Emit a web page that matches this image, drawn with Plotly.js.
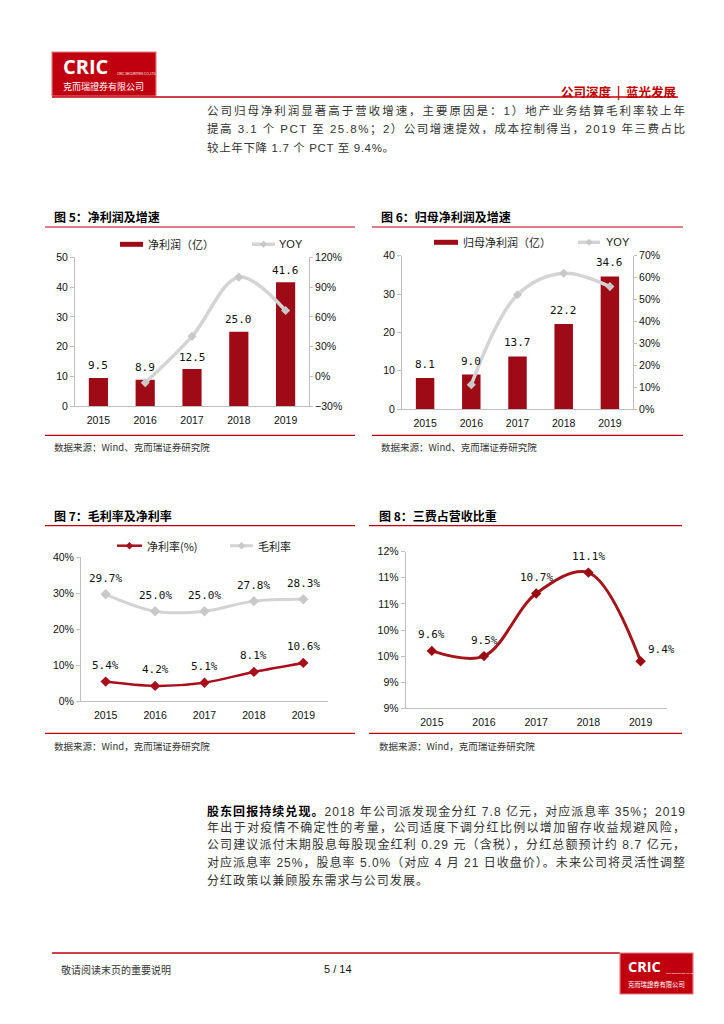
<!DOCTYPE html>
<html lang="zh-CN">
<head>
<meta charset="utf-8">
<script src="https://cdn.plot.ly/plotly-3.0.1.min.js"></script>
<style>
  html, body { margin:0; padding:0; background:#fff; }
  #page { position:relative; width:724px; height:1024px; overflow:hidden; }
  #plot { position:absolute; left:0; top:0; width:724px; height:1024px; }
  .line { position:absolute; white-space:nowrap; height:20px; line-height:20px;
          font-family:"Liberation Sans","Noto Sans CJK SC",sans-serif; color:#333; z-index:5; }
  .line b { color:#000; font-family:"Noto Sans CJK SC",sans-serif; font-weight:700; }
</style>
</head>
<body>
<div id="page"><div id="plot"></div></div>
<script>
// ---------------- data ----------------
const years = ['2015', '2016', '2017', '2018', '2019'];
const netProfit = [9.5, 8.9, 12.5, 25.0, 41.6];             // 净利润（亿）
const netProfitYoy = [null, -6.3, 40.4, 100.0, 66.4];       // YOY %
const parentProfit = [8.1, 9.0, 13.7, 22.2, 34.6];          // 归母净利润（亿）
const parentProfitYoy = [null, 11.1, 52.2, 62.0, 55.9];     // YOY %
const netMargin = [5.4, 4.2, 5.1, 8.1, 10.6];               // 净利率(%)
const grossMargin = [29.7, 25.0, 25.0, 27.8, 28.3];         // 毛利率
const expenseRatio = [9.6, 9.5, 10.7, 11.1, 9.4];           // 三费占营收比重
const fig8TickVals = [8.5, 9, 9.5, 10, 10.5, 11, 11.5];
const fig8TickText = ['9%', '9%', '10%', '10%', '11%', '11%', '12%'];

const topParagraph = [
  '公司归母净利润显著高于营收增速，主要原因是：1）地产业务结算毛利率较上年',
  '提高 3.1 个 PCT 至 25.8%；2）公司增速提效，成本控制得当，2019 年三费占比',
  '较上年下降 1.7 个 PCT 至 9.4%。'
];
const bottomLead = '股东回报持续兑现。';
const bottomParagraph = [
  '2018 年公司派发现金分红 7.8 亿元，对应派息率 35%；2019',
  '年出于对疫情不确定性的考量，公司适度下调分红比例以增加留存收益规避风险，',
  '公司建议派付末期股息每股现金红利 0.29 元（含税），分红总额预计约 8.7 亿元，',
  '对应派息率 25%，股息率 5.0%（对应 4 月 21 日收盘价）。未来公司将灵活性调整',
  '分红政策以兼顾股东需求与公司发展。'
];

// ---------------- helpers ----------------
const W = 724, H = 1024;
const px = x => x / W;
const py = y => 1 - y / H;
const CJK = '"Noto Sans CJK SC", sans-serif';
const SANS = '"Liberation Sans", Arial, "Noto Sans CJK SC", sans-serif';
const MONO = '"DejaVu Sans Mono", monospace';
const RED = '#c0000c';
const BAR = '#9e0b16';
const AXC = '#bfbfbf';

const shapes = [];
const annotations = [];
function hline(x0, x1, y, color, w) {
  shapes.push({type:'line', xref:'paper', yref:'paper', x0:px(x0), x1:px(x1), y0:py(y), y1:py(y),
               line:{color:color, width:w}});
}
function rect(x0, y0, x1, y1, fill, lc, lw) {
  shapes.push({type:'rect', xref:'paper', yref:'paper', x0:px(x0), x1:px(x1), y0:py(y1), y1:py(y0),
               fillcolor:fill, line:{color:lc || fill, width:lw || 0}});
}
function diamond(cx, cy, r, color) {
  shapes.push({type:'path', xref:'paper', yref:'paper', fillcolor:color, line:{color:color, width:0},
    path:`M${px(cx)},${py(cy - r)} L${px(cx + r)},${py(cy)} L${px(cx)},${py(cy + r)} L${px(cx - r)},${py(cy)} Z`});
}
function text(t, x, y, font, xanchor) {
  annotations.push({xref:'paper', yref:'paper', x:px(x), y:py(y), text:t, showarrow:false,
    xanchor:xanchor || 'left', yanchor:'middle', font:font, borderpad:0});
}

// ---------------- page header / footer ----------------
function logo(x0, y0, x1, y1, big, small, tiny) {
  rect(x0, y0, x1, y1, '#c1000f', '#e47c82', 1.2);
  const h = y1 - y0, w = x1 - x0;
  text('<b>CRIC</b>', x0 + w * 0.095, y0 + h * 0.33, {family:'"Open Sans", sans-serif', size:big, color:'#fff'});
  text('CRIC SECURITIES CO.,LTD', x0 + w * 0.62, y0 + h * 0.5, {family:SANS, size:tiny, color:'#fff'});
  text('克而瑞證券有限公司', x0 + w * 0.1, y0 + h * 0.78, {family:'"Noto Sans CJK TC", sans-serif', size:small, color:'#fff'});
}
logo(52, 52, 156, 96, 20, 9, 3);
hline(52, 678, 97, RED, 1.3);
text('<b>公司深度  |  蓝光发展</b>', 678, 91, {family:CJK, size:12.5, color:'#c00000'}, 'right');

hline(52, 620, 953, RED, 1.3);
logo(620, 953, 693, 994, 14.5, 6.3, 2.2);
text('敬请阅读末页的重要说明', 60, 969, {family:CJK, size:10, color:'#333'});
text('5 / 14', 338, 969, {family:SANS, size:11, color:'#111'}, 'center');

// ---------------- chart frames ----------------
const TITLEF = {family:CJK, size:12, color:'#000', weight:700};
const SRCF = {family:CJK, size:9.5, color:'#333'};
const LEGF = {family:CJK, size:11, color:'#222'};

// fig 5
text('图 5：净利润及增速', 53, 216.5, TITLEF);
hline(45, 355, 227, RED, 1.2);
hline(45, 355, 435.3, RED, 1.2);
text('数据来源：Wind、克而瑞证券研究院', 53, 447.3, SRCF);
rect(120, 241.8, 143, 246.8, BAR);
text('净利润（亿）', 147, 244.3, LEGF);
hline(252, 275, 244.3, '#d4d4d4', 3.5);
diamond(263.5, 244.3, 3.5, '#c8c8c8');
text('YOY', 278, 244.3, {family:SANS, size:11, color:'#222'});

// fig 6
text('图 6：归母净利润及增速', 380, 216.5, TITLEF);
hline(372, 683, 227, RED, 1.2);
hline(372, 683, 435.3, RED, 1.2);
text('数据来源：Wind、克而瑞证券研究院', 380, 447.3, SRCF);
rect(434, 239.8, 458, 244.8, BAR);
text('归母净利润（亿）', 462, 242.3, LEGF);
hline(578, 600, 242.3, '#d4d4d4', 3.5);
diamond(589, 242.3, 3.5, '#c8c8c8');
text('YOY', 605, 242.3, {family:SANS, size:11, color:'#222'});

// fig 7
text('图 7：毛利率及净利率', 53, 515, TITLEF);
hline(45, 355, 525.7, RED, 1.2);
hline(45, 355, 733.3, RED, 1.2);
text('数据来源：Wind，克而瑞证券研究院', 53, 745.7, SRCF);
hline(117, 142, 545.7, '#a80f1c', 2.5);
diamond(129.5, 545.7, 3.8, '#a80f1c');
text('净利率(%)', 146, 545.7, LEGF);
hline(230, 253, 545.7, '#d3d3d3', 3);
diamond(241.5, 545.7, 3.8, '#c8c8c8');
text('毛利率', 257, 545.7, LEGF);

// fig 8
text('图 8：三费占营收比重', 378, 515, TITLEF);
hline(369, 682, 525.7, RED, 1.2);
hline(369, 682, 733.3, RED, 1.2);
text('数据来源：Wind，克而瑞证券研究院', 378, 745.7, SRCF);

// ---------------- data labels (x = category index) ----------------
const LABF = {family:MONO, size:11, color:'#111'};
netProfit.forEach((v, i) => annotations.push({xref:'x', yref:'y', x:i, y:v, yshift:12, showarrow:false,
  text:v.toFixed(1), font:LABF, yanchor:'middle'}));
parentProfit.forEach((v, i) => annotations.push({xref:'x2', yref:'y3', x:i, y:v, yshift:13.5, showarrow:false,
  text:v.toFixed(1), font:LABF, yanchor:'middle'}));
grossMargin.forEach((v, i) => annotations.push({xref:'x3', yref:'y5', x:i, y:v, yshift:15.5, showarrow:false,
  text:v.toFixed(1) + '%', font:LABF, yanchor:'middle'}));
netMargin.forEach((v, i) => annotations.push({xref:'x3', yref:'y5', x:i, y:v, yshift:16, showarrow:false,
  text:v.toFixed(1) + '%', font:LABF, yanchor:'middle'}));
expenseRatio.forEach((v, i) => {
  const last = i === expenseRatio.length - 1;
  annotations.push({xref:'x4', yref:'y6', x:i, y:v, yshift:last ? 12 : 16, xshift:last ? 21 : 0,
    showarrow:false, text:v.toFixed(1) + '%', font:LABF, yanchor:'middle'});
});

// ---------------- traces ----------------
const traces = [
  {type:'bar', x:years, y:netProfit, xaxis:'x', yaxis:'y', width:0.41, marker:{color:BAR}, name:'净利润（亿）'},
  {type:'scatter', mode:'lines+markers', x:years, y:netProfitYoy, xaxis:'x', yaxis:'y2', name:'YOY',
   line:{color:'#d4d4d4', width:3.5, shape:'spline', smoothing:1}, marker:{symbol:'diamond', size:7, color:'#c8c8c8'}},
  {type:'bar', x:years, y:parentProfit, xaxis:'x2', yaxis:'y3', width:0.4, marker:{color:BAR}, name:'归母净利润（亿）'},
  {type:'scatter', mode:'lines+markers', x:years, y:parentProfitYoy, xaxis:'x2', yaxis:'y4', name:'YOY',
   line:{color:'#d4d4d4', width:3.5, shape:'spline', smoothing:1}, marker:{symbol:'diamond', size:7, color:'#c8c8c8'}},
  {type:'scatter', mode:'lines+markers', x:years, y:grossMargin, xaxis:'x3', yaxis:'y5', name:'毛利率',
   line:{color:'#d3d3d3', width:3, shape:'spline', smoothing:1}, marker:{symbol:'diamond', size:8, color:'#c8c8c8'}},
  {type:'scatter', mode:'lines+markers', x:years, y:netMargin, xaxis:'x3', yaxis:'y5', name:'净利率(%)',
   line:{color:'#a80f1c', width:2.5, shape:'spline', smoothing:1}, marker:{symbol:'diamond', size:8, color:'#a80f1c'}},
  {type:'scatter', mode:'lines+markers', x:years, y:expenseRatio, xaxis:'x4', yaxis:'y6', name:'三费占营收比重',
   line:{color:'#a3151b', width:3, shape:'spline', smoothing:1}, marker:{symbol:'diamond', size:8, color:'#9b0b12'}}
];

// ---------------- axes ----------------
const TICKF = {family:SANS, size:10.5, color:'#111'};
function xAx(x0, x1, anchor) {
  return {domain:[px(x0), px(x1)], anchor:anchor, type:'category', categoryorder:'array', categoryarray:years,
    range:[-0.5, years.length - 0.5], autorange:false, showline:true, linecolor:AXC, linewidth:1,
    ticks:'', showgrid:false, zeroline:false, tickfont:TICKF, ticklabelstandoff:4, fixedrange:true};
}
function yAx(top, bottom, anchor, extra) {
  return Object.assign({domain:[py(bottom), py(top)], anchor:anchor, showline:true, linecolor:AXC, linewidth:1,
    ticks:'outside', ticklen:4, tickcolor:AXC, showgrid:false, zeroline:false, tickfont:TICKF,
    autorange:false, fixedrange:true}, extra);
}
function yAxRight(overlay, anchor, extra) {
  return Object.assign({overlaying:overlay, anchor:anchor, side:'right', showline:true, linecolor:AXC, linewidth:1,
    ticks:'outside', ticklen:3, tickcolor:AXC, showgrid:false, zeroline:false, tickfont:TICKF,
    autorange:false, fixedrange:true}, extra);
}

const layout = {
  width:W, height:H, margin:{l:0, r:0, t:0, b:0}, paper_bgcolor:'#fff', plot_bgcolor:'rgba(0,0,0,0)',
  showlegend:false, hovermode:false,
  xaxis: xAx(75, 309, 'y'),
  yaxis: yAx(257.3, 406.3, 'x', {range:[0, 50], dtick:10}),
  yaxis2: yAxRight('y', 'x', {range:[-30, 120], dtick:30, ticksuffix:'%'}),
  xaxis2: xAx(402, 633, 'y3'),
  yaxis3: yAx(255.7, 409, 'x2', {range:[0, 40], dtick:10}),
  yaxis4: yAxRight('y3', 'x2', {range:[0, 70], dtick:10, ticksuffix:'%'}),
  xaxis3: xAx(81, 328, 'y5'),
  yaxis5: yAx(557.3, 701, 'x3', {range:[0, 40], dtick:10, ticksuffix:'%'}),
  xaxis4: xAx(405.7, 666.7, 'y6'),
  yaxis6: yAx(551.7, 708.3, 'x4', {range:[8.5, 11.5], tickmode:'array', tickvals:fig8TickVals, ticktext:fig8TickText}),
  shapes: shapes,
  annotations: annotations
};

Plotly.newPlot('plot', traces, layout, {staticPlot:true, displayModeBar:false});

// ---------------- prose (justified lines) ----------------
const page = document.getElementById('page');
function proseLine(html, x, cy, width, size) {
  const d = document.createElement('div');
  d.className = 'line';
  d.style.left = x + 'px';
  d.style.top = (cy - 10) + 'px';
  d.style.fontSize = size + 'px';
  const s = document.createElement('span');
  s.innerHTML = html;
  d.appendChild(s);
  page.appendChild(d);
  const w = s.getBoundingClientRect().width;
  const n = [...s.textContent].length;
  if (n > 1 && width > w) s.style.letterSpacing = ((width - w) / (n - 1)) + 'px';
}
const topY = [110.7, 129.3, 148.3];
const topW = [478, 478, 187];
topParagraph.forEach((t, i) => proseLine(t, 207, topY[i], topW[i], 11.5));
const botY = [810.7, 828.3, 845, 862.7, 880.7];
const botW = [478, 478, 478, 478, 221];
bottomParagraph.forEach((t, i) => proseLine(i === 0 ? '<b>' + bottomLead + '</b>' + t : t, 207, botY[i], botW[i], 12));
</script>
</body>
</html>
